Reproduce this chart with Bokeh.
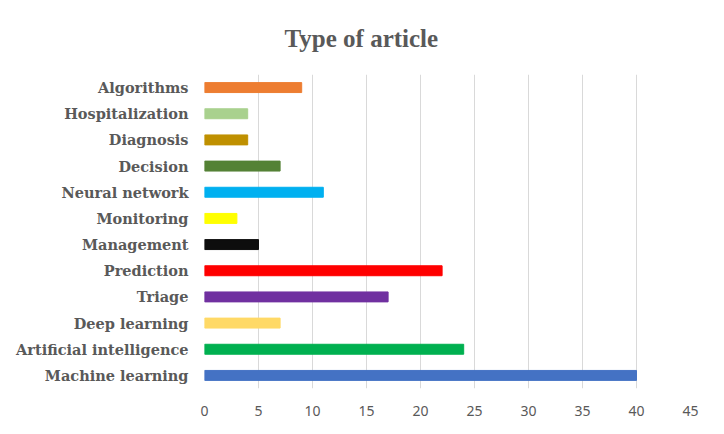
from bokeh.plotting import figure
from bokeh.models import ColumnDataSource, FactorRange, Range1d, Title, FixedTicker
from bokeh.embed import file_html
from bokeh.resources import INLINE

categories = ["Machine learning", "Artificial intelligence", "Deep learning", "Triage",
              "Prediction", "Management", "Monitoring", "Neural network", "Decision",
              "Diagnosis", "Hospitalization", "Algorithms"]
counts = [40, 24, 7, 17, 22, 5, 3, 11, 7, 4, 4, 9]
colors = ["#4472C4", "#00B050", "#FFD966", "#7030A0", "#FF0000", "#0D0D0D",
          "#FFFF00", "#00B0F0", "#548235", "#BF9000", "#A9D18E", "#ED7D31"]
x_ticks = [0, 5, 10, 15, 20, 25, 30, 35, 40, 45]

source = ColumnDataSource(dict(cat=categories, val=counts, color=colors))

p = figure(width=708, height=418, output_backend="svg", toolbar_location=None,
           y_range=FactorRange(factors=categories, range_padding=0),
           x_range=Range1d(0, 45),
           min_border_left=204, min_border_right=18, min_border_top=68, min_border_bottom=10)

p.hbar(y="cat", right="val", left=0, height=0.38, color="color", source=source)

p.outline_line_color = None
p.ygrid.grid_line_color = None
p.xgrid.grid_line_color = "#D9D9D9"
p.xgrid.grid_line_width = 1
p.xaxis.ticker = FixedTicker(ticks=x_ticks)
p.xaxis.axis_line_color = None
p.xaxis.major_tick_line_color = None
p.xaxis.minor_tick_line_color = None
p.xaxis.major_tick_out = 0
p.xaxis.major_label_text_font = "Noto Sans"
p.xaxis.major_label_text_font_size = "14px"
p.xaxis.major_label_text_color = "#595959"
p.xaxis.major_label_standoff = 17

p.yaxis.axis_line_color = None
p.yaxis.major_tick_line_color = None
p.yaxis.minor_tick_line_color = None
p.yaxis.major_tick_out = 0
p.yaxis.major_label_text_font = "DejaVu Serif"
p.yaxis.major_label_text_font_style = "bold"
p.yaxis.major_label_text_font_size = "14.5px"
p.yaxis.major_label_text_color = "#595959"
p.yaxis.major_label_standoff = 16

title = Title(text="Type of article", align="left", offset=80, standoff=45,
              text_font="Liberation Serif", text_font_style="bold",
              text_font_size="25px", text_color="#595959")
p.add_layout(title, "above")

open("out.html", "w").write(file_html(p, INLINE))
